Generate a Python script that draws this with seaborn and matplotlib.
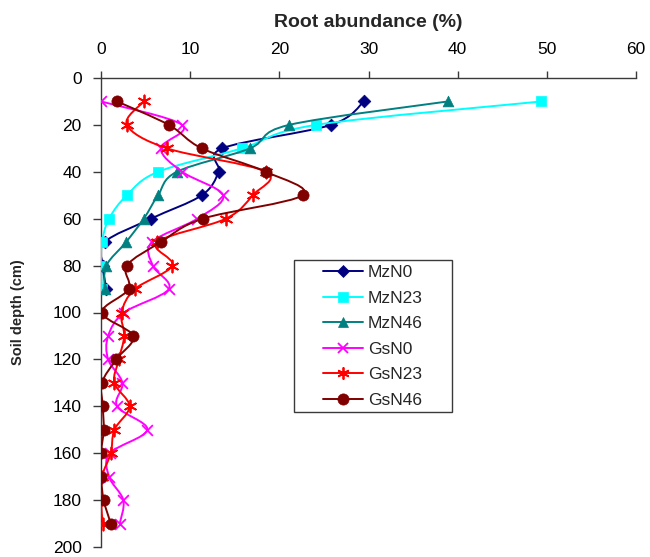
import numpy as np
import matplotlib
matplotlib.use("Agg")
import matplotlib.pyplot as plt
from matplotlib.path import Path
from matplotlib.patches import PathPatch, Rectangle
from matplotlib.lines import Line2D
import seaborn as sns

# ---- data ----
depth_mz = [10, 20, 30, 40, 50, 60, 70, 80, 90]
depth_gs = [10, 20, 30, 40, 50, 60, 70, 80, 90, 100, 110, 120, 130, 140, 150, 160, 170, 180, 190]

mzn0 = [29.5, 25.8, 13.6, 13.2, 11.3, 5.6, 0.4, 0.2, 0.6]
mzn23 = [49.4, 24.1, 15.8, 6.4, 2.9, 0.9, 0.1, 0.0, 0.1]
mzn46 = [38.9, 21.1, 16.7, 8.5, 6.4, 4.8, 2.8, 0.6, 0.4]
gsn0 = [0.0, 9.1, 6.7, 9.1, 13.7, 10.8, 5.7, 5.8, 7.6, 2.6, 0.8, 0.8, 2.4, 1.8, 5.2, 1.0, 0.9, 2.5, 2.1]
gsn23 = [4.8, 2.9, 7.4, 18.5, 17.0, 14.0, 6.3, 8.0, 3.8, 2.3, 2.6, 2.0, 1.5, 3.2, 1.5, 1.1, 0.1, 0.0, 0.2]
gsn46 = [1.8, 7.6, 11.3, 18.5, 22.6, 11.4, 6.7, 2.9, 3.1, 0.1, 3.6, 1.7, 0.1, 0.2, 0.3, 0.0, 0.0, 0.3, 1.1]

labels = ["MzN0", "MzN23", "MzN46", "GsN0", "GsN23", "GsN46"]
x_ticks = [0, 10, 20, 30, 40, 50, 60]
y_ticks = [0, 20, 40, 60, 80, 100, 120, 140, 160, 180, 200]

series = [
    (labels[0], depth_mz, mzn0, "#000080", "D", 42),
    (labels[1], depth_mz, mzn23, "#00FFFF", "s", 60),
    (labels[2], depth_mz, mzn46, "#008080", "^", 60),
    (labels[3], depth_gs, gsn0, "#FF00FF", "x", 60),
    (labels[4], depth_gs, gsn23, "#FF0000", (6, 2, 0), 75),
    (labels[5], depth_gs, gsn46, "#800000", "o", 65),
]

sns.set_theme(style="white")
plt.rcParams['font.family'] = ['Liberation Sans', 'DejaVu Sans']


def smooth_path(xs, ys):
    P = np.column_stack([np.asarray(xs, float), np.asarray(ys, float)])
    n = len(P)
    verts = [P[0]]
    codes = [Path.MOVETO]
    for i in range(n - 1):
        p0 = P[i - 1] if i > 0 else P[i]
        p1 = P[i]
        p2 = P[i + 1]
        p3 = P[i + 2] if i + 2 < n else P[i + 1]
        c1 = p1 + (p2 - p0) / 6.0
        c2 = p2 - (p3 - p1) / 6.0
        verts += [c1, c2, p2]
        codes += [Path.CURVE4] * 3
    return Path(verts, codes)


fig = plt.figure(figsize=(6.5, 5.57), dpi=100)
ax = fig.add_axes([101 / 650, 10 / 557, 535 / 650, 469 / 557])

for i, (name, d, v, c, m, s) in enumerate(series):
    z = 3 + i
    ax.add_patch(PathPatch(smooth_path(v, d), fill=False, edgecolor=c, lw=1.4, zorder=z))
    lw = 1.3 if m in ("x", (6, 2, 0)) else 0.5
    sns.scatterplot(x=v, y=d, marker=m, color=c, s=s, edgecolor=c, linewidth=lw,
                    ax=ax, zorder=z, legend=False)

ax.set_xlim(0, 60)
ax.set_ylim(200, 0)
ax.set_xticks(x_ticks)
ax.set_yticks(y_ticks)
ax.xaxis.tick_top()
ax.xaxis.set_label_position("top")

for side in ["right", "bottom"]:
    ax.spines[side].set_visible(False)
for side in ["left", "top"]:
    ax.spines[side].set_color("#3a3a3a")
    ax.spines[side].set_linewidth(1.0)

ax.tick_params(axis="x", which="major", direction="out", length=5, width=1,
               color="#3a3a3a", pad=10, labelsize=12.5, labelcolor="black", top=True, bottom=False)
ax.tick_params(axis="y", which="major", direction="out", length=6, width=1,
               color="#3a3a3a", pad=8, labelsize=12.5, labelcolor="black", left=True)

ax.set_xlabel("Root abundance (%)", fontsize=14, fontweight="bold", labelpad=11)
ax.set_ylabel("Soil depth (cm)", fontsize=10.5, fontweight="bold", labelpad=20)

# legend box
ax.add_patch(Rectangle((193 / 535, 135 / 469), 158 / 535, 152 / 469, transform=ax.transAxes,
                       fill=True, facecolor="white", edgecolor="#3a3a3a", lw=1.0, zorder=20))
handles = []
for name, d, v, c, m, s in series:
    mew = 1.3 if m in ("x", (6, 2, 0)) else 0.5
    handles.append(Line2D([], [], color=c, marker=m, markersize=np.sqrt(s), lw=1.4,
                          markeredgecolor=c, markeredgewidth=mew))
leg = ax.legend(handles, labels, loc="upper left", bbox_to_anchor=(222 / 535, 282 / 469),
                frameon=False, fontsize=12.5, handlelength=2.3, handletextpad=0.28,
                labelspacing=0.6, borderpad=0, borderaxespad=0)
leg.set_zorder(21)

fig.savefig("out.png", dpi=100)
